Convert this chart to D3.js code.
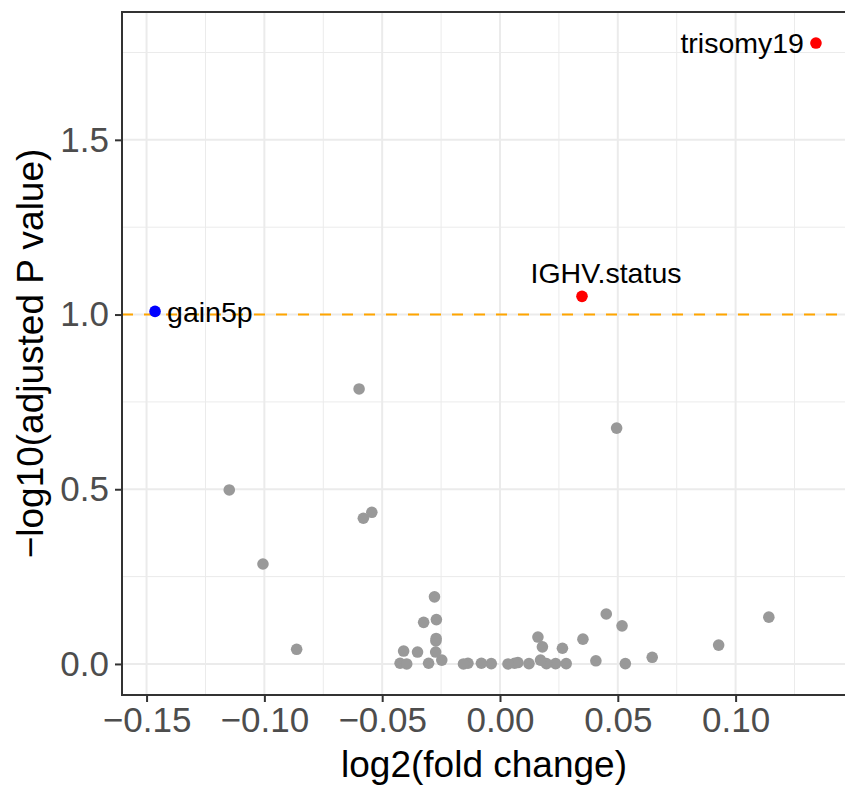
<!DOCTYPE html>
<html>
<head>
<meta charset="utf-8">
<script src="https://cdn.jsdelivr.net/npm/d3@7"></script>
<style>
  html, body { margin: 0; padding: 0; background: #fff; }
  svg { display: block; }
  text { font-family: "Liberation Sans", Arial, Helvetica, sans-serif; }
</style>
</head>
<body>
<script>
// ---- data ----
const grayX = [-0.0598, 0.0495, -0.1149, -0.0580, -0.0544, -0.1006, -0.0863, 0.1141, 0.0928, 0.0646,
  0.0532, 0.0518, 0.0451, 0.0407, 0.0352, 0.0281, 0.0265, 0.0236, 0.0197, 0.0172,
  0.0180, 0.0161, 0.0123, 0.0076, 0.0062, 0.0034, -0.0037, -0.0079, -0.0136, -0.0155,
  -0.0247, -0.0303, -0.0273, -0.0272, -0.0271, -0.0270, -0.0324, -0.0278, -0.0350, -0.0409,
  -0.0424, -0.0396];
const grayY = [0.787, 0.675, 0.498, 0.417, 0.434, 0.286, 0.042, 0.134, 0.054, 0.019,
  0.001, 0.109, 0.143, 0.009, 0.071, 0.001, 0.045, 0.001, 0.001, 0.011,
  0.049, 0.077, 0.001, 0.004, 0.002, 0.000, 0.001, 0.002, 0.002, 0.000,
  0.011, 0.002, 0.034, 0.066, 0.073, 0.127, 0.119, 0.192, 0.034, 0.037,
  0.002, 0.000];
const sigNames = ["trisomy19", "IGHV.status", "gain5p"];
const sigX = [0.1341, 0.0348, -0.1464];
const sigY = [1.777, 1.052, 1.009];
const threshold = 1.0;
const xTicks = [-0.15, -0.10, -0.05, 0.00, 0.05, 0.10];
const xTickLabels = ["\u22120.15", "\u22120.10", "\u22120.05", "0.00", "0.05", "0.10"];
const yTicks = [0.0, 0.5, 1.0, 1.5];
const yTickLabels = ["0.0", "0.5", "1.0", "1.5"];
const xMinor = [-0.125, -0.075, -0.025, 0.025, 0.075, 0.125];
const yMinor = [0.25, 0.75, 1.25, 1.75];
const xTitle = "log2(fold change)";
const yTitle = "\u2212log10(adjusted P value)";

// ---- layout ----
const W = 845, H = 788;
const P = { left: 122, right: 849, top: 12, bottom: 695 };

const allX = grayX.concat(sigX), allY = grayY.concat(sigY);
const xMin = d3.min(allX), xMax = d3.max(allX);
const yMin = d3.min(allY), yMax = d3.max(allY);
const xPad = (xMax - xMin) * 0.05, yPad = (yMax - yMin) * 0.05;

const x = d3.scaleLinear().domain([xMin - xPad, xMax + xPad]).range([P.left, P.right]);
const y = d3.scaleLinear().domain([yMin - yPad, yMax + yPad]).range([P.bottom, P.top]);

const svg = d3.select("body").append("svg").attr("width", W).attr("height", H);

svg.append("rect").attr("x", P.left).attr("y", P.top)
  .attr("width", P.right - P.left).attr("height", P.bottom - P.top).attr("fill", "#fff");

const grid = svg.append("g");
grid.selectAll(".vmin").data(xMinor).join("line")
  .attr("x1", d => x(d)).attr("x2", d => x(d)).attr("y1", P.top).attr("y2", P.bottom)
  .attr("stroke", "#EBEBEB").attr("stroke-width", 1);
grid.selectAll(".hmin").data(yMinor).join("line")
  .attr("x1", P.left).attr("x2", P.right).attr("y1", d => y(d)).attr("y2", d => y(d))
  .attr("stroke", "#EBEBEB").attr("stroke-width", 1);
grid.selectAll(".vmaj").data(xTicks).join("line")
  .attr("x1", d => x(d)).attr("x2", d => x(d)).attr("y1", P.top).attr("y2", P.bottom)
  .attr("stroke", "#EBEBEB").attr("stroke-width", 2);
grid.selectAll(".hmaj").data(yTicks).join("line")
  .attr("x1", P.left).attr("x2", P.right).attr("y1", d => y(d)).attr("y2", d => y(d))
  .attr("stroke", "#EBEBEB").attr("stroke-width", 2);

svg.append("line")
  .attr("x1", P.left).attr("x2", P.right).attr("y1", y(threshold)).attr("y2", y(threshold))
  .attr("stroke", "#FFA500").attr("stroke-width", 2).attr("stroke-dasharray", "11,11");

svg.append("g").selectAll("circle").data(grayX.map((v, i) => [v, grayY[i]])).join("circle")
  .attr("cx", d => x(d[0])).attr("cy", d => y(d[1])).attr("r", 5.8).attr("fill", "#999999");

const sig = sigNames.map((n, i) => ({ name: n, x: sigX[i], y: sigY[i] }));
svg.append("g").selectAll("circle").data(sig).join("circle")
  .attr("cx", d => x(d.x)).attr("cy", d => y(d.y)).attr("r", 5.8)
  .attr("fill", d => d.x > 0 ? "#FF0000" : "#0000FF");

const labelPos = {
  "trisomy19": { dx: -12, dy: 10, anchor: "end" },
  "IGHV.status": { dx: 24, dy: -13, anchor: "middle" },
  "gain5p": { dx: 12, dy: 11, anchor: "start" }
};
svg.append("g").selectAll("text").data(sig).join("text")
  .attr("x", d => x(d.x) + labelPos[d.name].dx)
  .attr("y", d => y(d.y) + labelPos[d.name].dy)
  .attr("text-anchor", d => labelPos[d.name].anchor)
  .attr("font-size", 28.5).attr("fill", "#000")
  .text(d => d.name);

svg.append("path")
  .attr("d", `M${P.right},${P.top}H${P.left}V${P.bottom}H${P.right}`)
  .attr("fill", "none").attr("stroke", "#333333").attr("stroke-width", 2);

const xAxis = d3.axisBottom(x).tickValues(xTicks).tickFormat((d, i) => xTickLabels[i])
  .tickSizeOuter(0).tickSizeInner(7).tickPadding(5);
const gx = svg.append("g").attr("transform", `translate(0,${P.bottom})`).call(xAxis);
gx.select(".domain").remove();
gx.selectAll("line").attr("stroke", "#333333").attr("stroke-width", 2);
gx.selectAll("text").attr("font-size", 35).attr("fill", "#4D4D4D")
  .attr("font-family", "Liberation Sans, Arial, sans-serif");

const yAxis = d3.axisLeft(y).tickValues(yTicks).tickFormat((d, i) => yTickLabels[i])
  .tickSizeOuter(0).tickSizeInner(7).tickPadding(6);
const gy = svg.append("g").attr("transform", `translate(${P.left},0)`).call(yAxis);
gy.select(".domain").remove();
gy.selectAll("line").attr("stroke", "#333333").attr("stroke-width", 2);
gy.selectAll("text").attr("font-size", 35).attr("fill", "#4D4D4D")
  .attr("font-family", "Liberation Sans, Arial, sans-serif");

svg.append("text").attr("x", 484).attr("y", 777)
  .attr("text-anchor", "middle").attr("font-size", 37).attr("fill", "#000").text(xTitle);
svg.append("text")
  .attr("transform", `translate(43,${(P.top + P.bottom) / 2}) rotate(-90)`)
  .attr("text-anchor", "middle").attr("font-size", 37).attr("fill", "#000").text(yTitle);
</script>
</body>
</html>
